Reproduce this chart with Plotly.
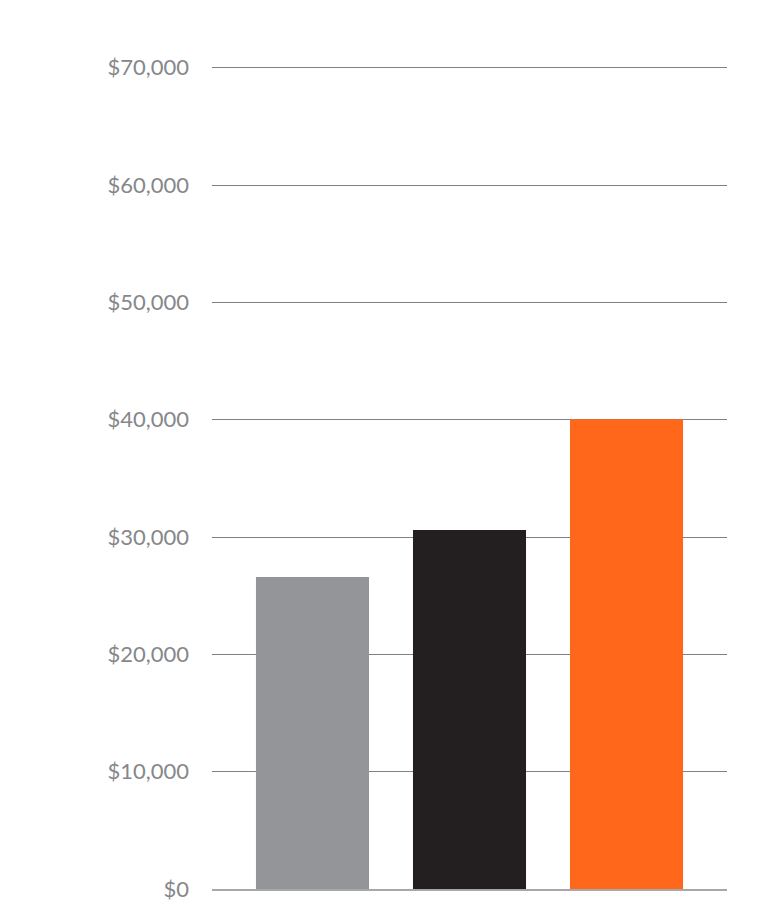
import plotly.graph_objects as go

# data
categories = ["Group 1", "Group 2", "Group 3"]
values = [26600, 30600, 40050]
bar_colors = ["#939598", "#231f20", "#ff671b"]
tick_vals = [0, 10000, 20000, 30000, 40000, 50000, 60000, 70000]
tick_text = ["$0", "$10,000", "$20,000", "$30,000", "$40,000", "$50,000", "$60,000", "$70,000"]

bar_w = 0.72

fig = go.Figure()
fig.add_trace(go.Bar(
    x=categories, y=values, width=bar_w,
    marker=dict(color=bar_colors, line=dict(width=0)),
    hoverinfo="skip", showlegend=False,
))

fig.update_layout(
    width=765, height=906,
    margin=dict(l=212, r=38, t=66, b=17),
    paper_bgcolor="white", plot_bgcolor="white",
    font=dict(family="Lato", size=22, color="#86878a"),
)
fig.update_xaxes(
    range=[-1 + bar_w / 2, len(categories) - bar_w / 2],
    showticklabels=False, ticks="", showgrid=False,
    showline=True, linecolor="#a7a8aa", linewidth=2,
)
fig.update_yaxes(
    range=[0, 70150], tickvals=tick_vals, ticktext=tick_text,
    showgrid=True, gridcolor="#808184", gridwidth=1,
    zeroline=False, ticks="", ticklabelstandoff=22,
    ticklabeloverflow="allow", automargin=False,
)

# drop the default 8px body margin so the figure fills the window
fig.write_html("out.html", config={"displayModeBar": False},
               post_script="document.body.style.margin='0';")
